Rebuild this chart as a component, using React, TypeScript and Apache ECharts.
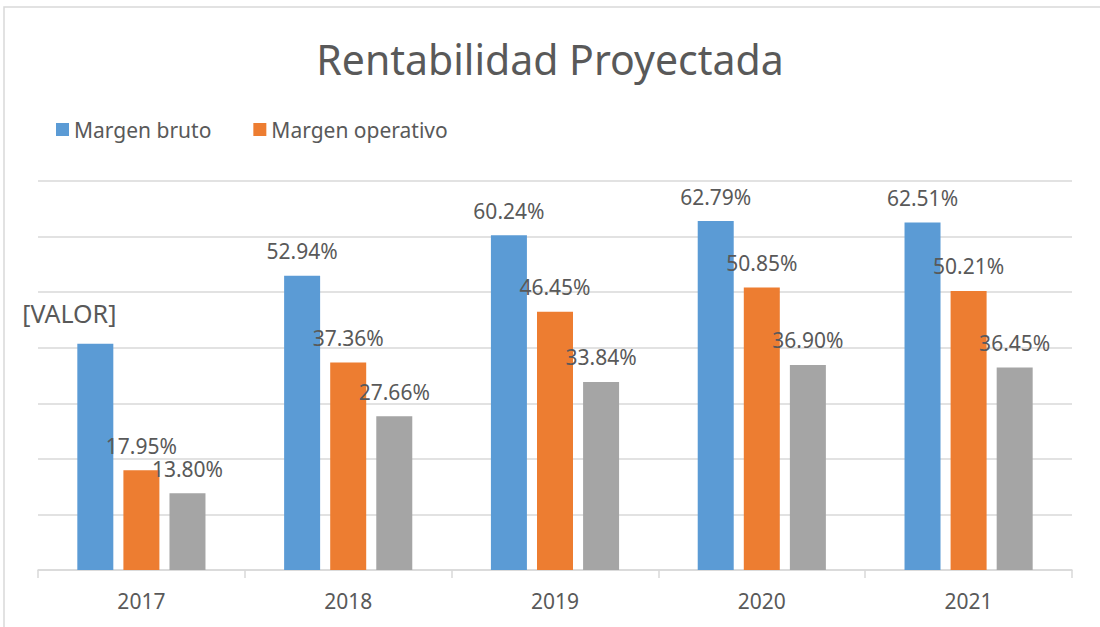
import React, { useEffect, useRef } from "react";
import * as echarts from "echarts";

const categories = ["2017", "2018", "2019", "2020", "2021"];
const margenBruto = [40.7, 52.94, 60.24, 62.79, 62.51];
const margenOperativo = [17.95, 37.36, 46.45, 50.85, 50.21];
const margenNeto = [13.8, 27.66, 33.84, 36.9, 36.45];
const seriesNames = ["Margen bruto", "Margen operativo", ""];

const FONT = "'Noto Sans', 'Open Sans', sans-serif";
const TEXT = "#595959";

export default function App() {
  const ref = useRef<HTMLDivElement>(null);
  useEffect(() => {
    if (!ref.current) return;
    const chart = echarts.init(ref.current, null, { renderer: "svg" });
    const fmt = (p: any) => (p.data && p.data.labelText) ? p.data.labelText : Number(p.value).toFixed(2) + "%";
    const lbl = {
      show: true,
      position: "top" as const,
      distance: 14,
      fontSize: 21,
      color: TEXT,
      fontFamily: FONT,
      formatter: fmt,
    };
    chart.setOption({
      animation: false,
      textStyle: { fontFamily: FONT },
      title: {
        text: "Rentabilidad Proyectada",
        left: "center",
        top: 33,
        textStyle: { fontSize: 41, fontWeight: "normal", color: TEXT, fontFamily: FONT },
      },
      legend: {
        data: [seriesNames[0], seriesNames[1]],
        left: 51,
        top: 114,
        icon: "rect",
        itemWidth: 13,
        itemHeight: 13,
        itemGap: 42,
        textStyle: { fontSize: 21, color: TEXT, fontFamily: FONT },
      },
      graphic: [
        {
          type: "rect",
          shape: { x: 4, y: 7, width: 1200, height: 700 },
          style: { fill: "none", stroke: "#d9d9d9", lineWidth: 1.5 },
          silent: true,
        },
      ],
      grid: { left: 38, right: 28, top: 181, bottom: 57 },
      xAxis: {
        type: "category",
        data: categories,
        axisLine: { lineStyle: { color: "#d9d9d9", width: 1.5 } },
        axisTick: { show: true, length: 8, lineStyle: { color: "#d9d9d9", width: 1.5 } },
        axisLabel: { fontSize: 21, color: TEXT, margin: 20, fontFamily: FONT },
      },
      yAxis: {
        type: "value",
        min: 0,
        max: 70,
        interval: 10,
        axisLabel: { show: false },
        axisLine: { show: false },
        axisTick: { show: false },
        splitLine: { lineStyle: { color: "#d9d9d9", width: 1.5 } },
      },
      series: [
        {
          name: seriesNames[0],
          type: "bar",
          barWidth: 36,
          barGap: "28%",
          itemStyle: { color: "#5B9BD5" },
          label: lbl,
          data: margenBruto.map((v, i) =>
            i === 0
              ? { value: v, labelText: "[VALOR]", label: { fontSize: 25, distance: 18, offset: [-26, 0] } }
              : { value: v }
          ),
        },
        {
          name: seriesNames[1],
          type: "bar",
          barWidth: 36,
          barGap: "28%",
          itemStyle: { color: "#ED7D31" },
          label: lbl,
          data: margenOperativo,
        },
        {
          name: "Margen neto",
          type: "bar",
          barWidth: 36,
          barGap: "28%",
          itemStyle: { color: "#A5A5A5" },
          label: lbl,
          data: margenNeto,
        },
      ],
    });
    return () => chart.dispose();
  }, []);
  return (
    <div
      ref={ref}
      style={{ position: "fixed", left: 0, top: 0, width: 1100, height: 627, background: "#fff" }}
    />
  );
}
